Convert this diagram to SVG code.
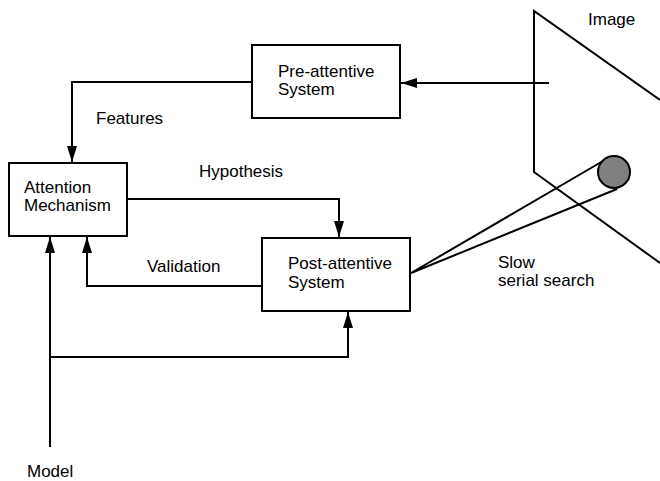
<svg xmlns="http://www.w3.org/2000/svg" width="660" height="481" viewBox="0 0 660 481">
<style>
.box{fill:#fff;stroke:#000;stroke-width:2}
.ln{fill:none;stroke:#000;stroke-width:2}
.t{font-family:"Liberation Sans",Arial,sans-serif;font-size:17px;fill:#000}
</style>
<defs>
<marker id="ah" viewBox="0 0 16 10" refX="16" refY="5" markerWidth="16" markerHeight="10" markerUnits="userSpaceOnUse" orient="auto">
<path d="M0,0 L16,5 L0,10 Z" fill="#000"/>
</marker>
</defs>
<rect width="660" height="481" fill="#fff"/>
<g id="image-plane">
<path class="ln" d="M660,100 L534,11 L534,172 L660,263"/>
<text class="t" x="588" y="25">Image</text>
</g>
<g id="connectors">
<path class="ln" d="M549,83 L401,83" marker-end="url(#ah)"/>
<path class="ln" d="M252,82 L72,82 L72,162" marker-end="url(#ah)"/>
<path class="ln" d="M127,199 L339,199 L339,237" marker-end="url(#ah)"/>
<path class="ln" d="M262,286 L87,286 L87,237" marker-end="url(#ah)"/>
<path class="ln" d="M50,447 L50,237" marker-end="url(#ah)"/>
<path class="ln" d="M50,357 L348,357 L348,312" marker-end="url(#ah)"/>
<path class="ln" d="M603,161 L411,273 L617,189"/>
<text class="t" x="96" y="124">Features</text>
<text class="t" x="199" y="177">Hypothesis</text>
<text class="t" x="147" y="272">Validation</text>
<text class="t" x="498" y="268">Slow</text>
<text class="t" x="498" y="286">serial search</text>
</g>
<g id="eye">
<circle cx="614" cy="172" r="16" fill="#808080" stroke="#000" stroke-width="2"/>
</g>
<g id="pre-attentive">
<rect class="box" x="252" y="45" width="148" height="73"/>
<text class="t" x="278" y="77">Pre-attentive</text>
<text class="t" x="278" y="95">System</text>
</g>
<g id="attention">
<rect class="box" x="9" y="163" width="118" height="73"/>
<text class="t" x="24" y="193">Attention</text>
<text class="t" x="24" y="211">Mechanism</text>
</g>
<g id="post-attentive">
<rect class="box" x="262" y="238" width="148" height="73"/>
<text class="t" x="288" y="269">Post-attentive</text>
<text class="t" x="288" y="288">System</text>
</g>
<g id="model">
<text class="t" x="27" y="477">Model</text>
</g>
</svg>
